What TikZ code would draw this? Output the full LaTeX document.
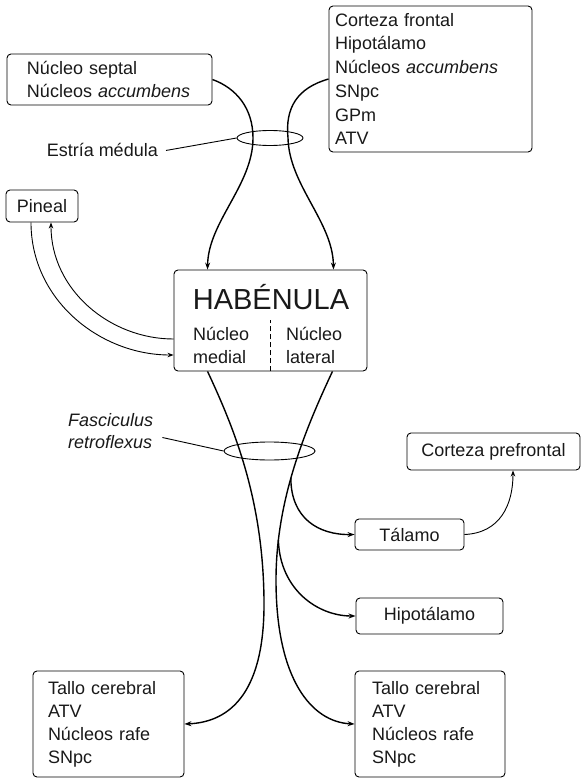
\documentclass[tikz,border=0pt]{standalone}
\usepackage{fontspec}
\setmainfont{Liberation Sans}
\usetikzlibrary{arrows.meta,shapes.geometric}

\begin{document}
\begin{tikzpicture}[x=1pt,y=-1pt,
  every node/.style={font=\fontsize{18}{23}\selectfont, text=black!90, inner sep=0pt},
  box/.style={draw, rounded corners=4pt, line width=0.9pt, align=left},
  ring/.style={draw, ellipse, line width=0.9pt, inner sep=0pt},
  conn/.style={line width=1.4pt, -{Stealth[length=7pt,width=5pt]}},
  thinconn/.style={line width=0.9pt, -{Stealth[length=6pt,width=4.5pt]}},
  lead/.style={line width=0.9pt},
  divider/.style={line width=0.8pt, dash pattern=on 5pt off 3pt},
]
\useasboundingbox (0,0) rectangle (581,778);

% afferent sources
\node[box, minimum width=205pt, minimum height=51pt, text width=165pt] (sep) at (109.5,79.5)
  {Núcleo septal\\Núcleos \textit{accumbens}};
\node[box, minimum width=203pt, minimum height=146pt, text width=191pt,
      font=\fontsize{18}{23.7}\selectfont] (aff) at (430.5,79)
  {Corteza frontal\\Hipotálamo\\Núcleos \textit{accumbens}\\SNpc\\GPm\\ATV};
\node[box, minimum width=72pt, minimum height=32pt, align=center] (pin) at (42,206) {Pineal};

% habenula
\node[box, minimum width=193pt, minimum height=101pt] (hab) at (270.5,320.5) {};
\node[font=\fontsize{29}{32}\selectfont] (habname) at (271,297) {HABÉNULA};
\node[anchor=west, align=left] (med) at (193,345) {Núcleo\\medial};
\node[anchor=west, align=left] (lat) at (286,345) {Núcleo\\lateral};
\draw[divider] (hab.south) -- ++(0,-51);

% stria medullaris
\node[ring, minimum width=66pt, minimum height=15pt] (stria) at (270,138) {};
\node[anchor=base east] (strialbl) at (158,157) {Estría médula};
\draw[lead] ([xshift=8pt]strialbl.east) -- (stria.west);

% fasciculus retroflexus
\node[ring, minimum width=91pt, minimum height=18pt] (fr) at (269.5,451) {};
\node[anchor=west, align=left, font=\fontsize{18}{22}\selectfont\itshape] (frlbl) at (68,431.5)
  {Fasciculus\\retroflexus};
\draw[lead] ([xshift=9pt,yshift=-6pt]frlbl.east) -- (fr.west);

% efferent targets
\node[box, minimum width=173pt, minimum height=37pt, align=center] (cpf) at (493.5,451.5) {Corteza prefrontal};
\node[box, minimum width=109pt, minimum height=31pt, align=center] (tal) at (409.5,534.5) {Tálamo};
\node[box, minimum width=147pt, minimum height=36pt, align=center] (hip) at (429.5,616) {Hipotálamo};
\node[box, minimum width=151pt, minimum height=106pt, text width=121pt] (bl) at (108.5,724)
  {Tallo cerebral\\ATV\\Núcleos rafe\\SNpc};
\node[box, minimum width=150pt, minimum height=106pt, text width=116pt] (br) at (430,724)
  {Tallo cerebral\\ATV\\Núcleos rafe\\SNpc};

% afferents through the stria medullaris
\draw[conn] (sep.east) .. controls (236,88) and (253,108) .. (253,138)
  .. controls (253,185) and (208,222) .. ([xshift=34pt]hab.north west);
\draw[conn] (aff.west) .. controls (297,88) and (285,108) .. (288,138)
  .. controls (289,185) and (333,222) .. ([xshift=-34pt]hab.north east);

% pineal loop
\draw[thinconn] ([xshift=-11pt]pin.south) .. controls (31,300) and (100,355) .. ([yshift=-34.5pt]hab.west);
\draw[thinconn] ([yshift=-18.5pt]hab.west) .. controls (110,339) and (51,290) .. ([xshift=9pt]pin.south);

% efferents through the fasciculus retroflexus
\draw[conn] ([xshift=34pt]hab.south west) .. controls (235,430) and (263,500) .. (264,600)
  .. controls (265,690) and (232,722) .. (bl.east);
\draw[conn] ([xshift=-35pt]hab.south east) .. controls (305,430) and (276,500) .. (276,580)
  coordinate[pos=0.55] (bt) coordinate[pos=0.83] (bh)
  .. controls (276,680) and (312,722) .. (br.west);
\draw[conn] (bt) .. controls (291,518) and (318,535) .. (tal.west);
\draw[conn] (bh) .. controls (280,590) and (318,616) .. (hip.west);
\draw[thinconn] (tal.east) .. controls (500,533) and (513,505) .. ([xshift=19.5pt]cpf.south);
\end{tikzpicture}
\end{document}
